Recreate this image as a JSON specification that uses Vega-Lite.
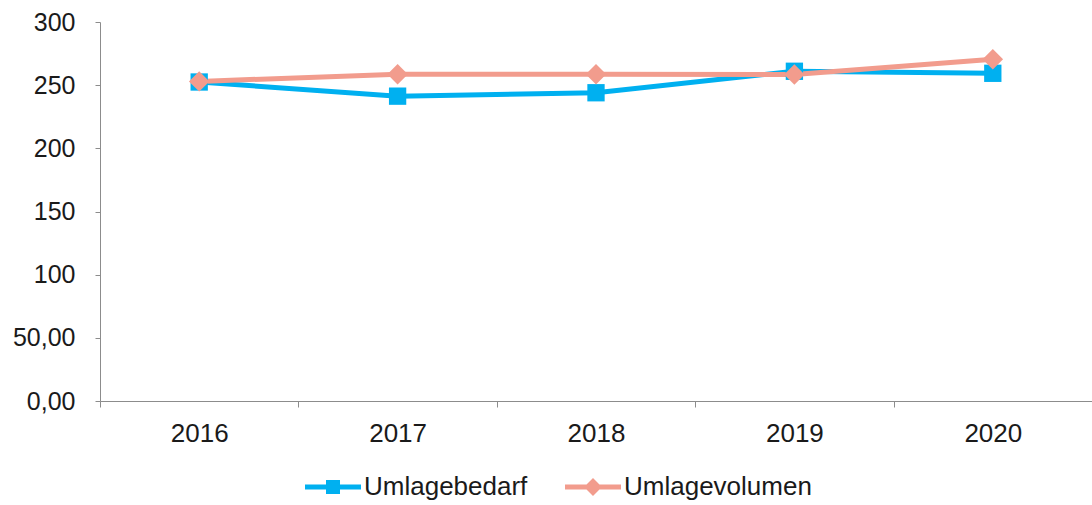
{
  "$schema": "https://vega.github.io/schema/vega-lite/v6.json",
  "width": 992,
  "height": 379,
  "autosize": {"type": "none"},
  "padding": {"left": 100, "top": 22, "right": 0, "bottom": 104},
  "background": "white",
  "config": {
    "view": {"stroke": null},
    "font": "Liberation Sans",
    "axis": {"labelFont": "Liberation Sans", "labelFontSize": 25, "labelColor": "#1a1a1a", "domainColor": "#8c8c8c", "tickColor": "#8c8c8c", "grid": false, "title": null}
  },
  "data": {
    "values": [
      {"year": "2016", "series": "Umlagebedarf", "value": 252.5},
      {"year": "2017", "series": "Umlagebedarf", "value": 241.3},
      {"year": "2018", "series": "Umlagebedarf", "value": 244},
      {"year": "2019", "series": "Umlagebedarf", "value": 261},
      {"year": "2020", "series": "Umlagebedarf", "value": 259.4},
      {"year": "2016", "series": "Umlagevolumen", "value": 253},
      {"year": "2017", "series": "Umlagevolumen", "value": 258.6},
      {"year": "2018", "series": "Umlagevolumen", "value": 258.6},
      {"year": "2019", "series": "Umlagevolumen", "value": 258.4},
      {"year": "2020", "series": "Umlagevolumen", "value": 270.5}
    ]
  },
  "encoding": {
    "x": {
      "field": "year", "type": "nominal",
      "scale": {"type": "band", "paddingInner": 0, "paddingOuter": 0},
      "axis": {"labelAngle": 0, "tickBand": "extent", "tickSize": 6, "labelPadding": 13, "labelFontSize": 26, "domainWidth": 1}
    },
    "y": {
      "field": "value", "type": "quantitative",
      "scale": {"domain": [0, 300], "nice": false},
      "axis": {"values": [0, 50, 100, 150, 200, 250, 300], "tickSize": 5, "labelPadding": 20,
        "labelExpr": "datum.value == 0 ? '0,00' : datum.value == 50 ? '50,00' : datum.label"}
    },
    "color": {
      "field": "series", "type": "nominal",
      "scale": {"domain": ["Umlagebedarf", "Umlagevolumen"], "range": ["#00B0F0", "#F29C8D"]}
    }
  },
  "layer": [
    {
      "mark": {"type": "line", "strokeWidth": 5},
      "encoding": {
        "color": {
          "field": "series", "type": "nominal",
          "scale": {"domain": ["Umlagebedarf", "Umlagevolumen"], "range": ["#00B0F0", "#F29C8D"]},
          "legend": {
            "title": null, "orient": "none", "direction": "horizontal",
            "legendX": 205, "legendY": 437,
            "labelFont": "Liberation Sans", "labelFontSize": 26, "labelColor": "#1a1a1a", "labelLimit": 400,
            "symbolSize": 3136, "labelOffset": 3, "columnPadding": 37,
            "encode": {
              "symbols": {
                "update": {
                  "shape": {"signal": "datum.value == 'Umlagebedarf' ? 'M-1,-0.09H1V0.09H-1Z M-0.25,-0.25H0.25V0.25H-0.25Z' : 'M-1,-0.09H1V0.09H-1Z M0,-0.32L0.32,0L0,0.32L-0.32,0Z'"},
                  "fill": {"scale": "color", "field": "value"},
                  "fillOpacity": {"value": 1},
                  "strokeWidth": {"value": 0}
                }
              }
            }
          }
        }
      }
    },
    {
      "mark": {"type": "point", "filled": true, "opacity": 1, "size": 300, "shape": "square", "cornerRadius": 3},
      "transform": [{"filter": "datum.series == 'Umlagebedarf'"}]
    },
    {
      "mark": {"type": "point", "filled": true, "opacity": 1, "size": 420, "shape": "diamond"},
      "transform": [{"filter": "datum.series == 'Umlagevolumen'"}]
    }
  ]
}
